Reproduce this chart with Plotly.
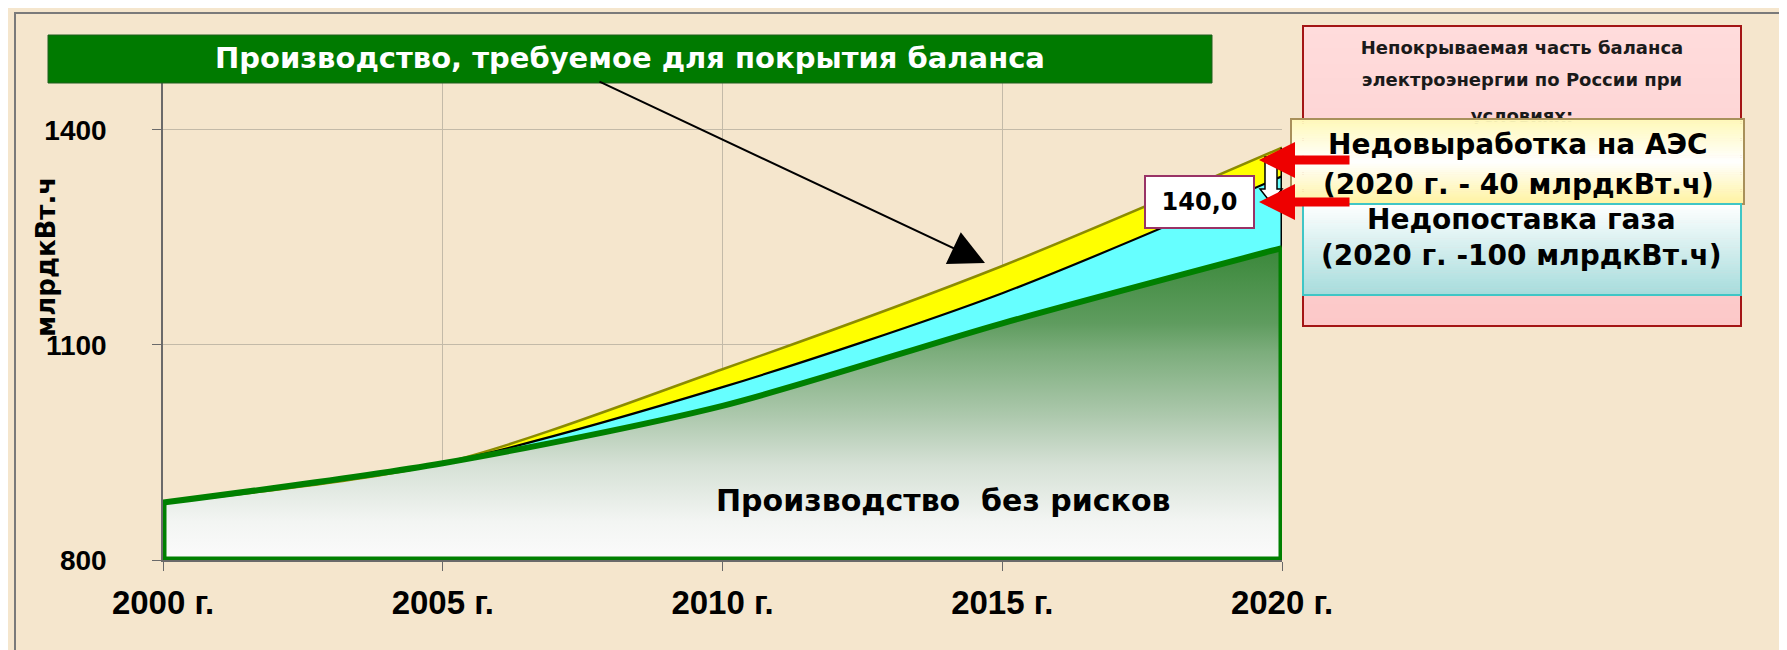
import plotly.graph_objects as go

# ---------------- data ----------------
years = [2000, 2005, 2010, 2015, 2020]
year_labels = ["2000 г.", "2005 г.", "2010 г.", "2015 г.", "2020 г."]
base_production = [880, 935, 1015, 1130, 1235]   # Производство без рисков
gas_shortfall = [0, 0, 26, 42, 100]              # Недопоставка газа
npp_shortfall = [0, 0, 25, 38, 40]               # Недовыработка на АЭС
y_tickvals = [800, 1100, 1400]
y_range = [800, 1500]
gap_label = "140,0"

gas_top = [b + g for b, g in zip(base_production, gas_shortfall)]
total_top = [c + n for c, n in zip(gas_top, npp_shortfall)]

# ---------------- geometry helpers (page pixels) ----------------
W, H = 1787, 650
OX, OY = -8, -7          # global placement offset
PL, PR, PT, PB = 163, 1282, 57, 559   # plot area in page px (before offset)


def fx(px):
    return (px + OX) / W


def fy(py):
    return 1 - (py + OY) / H


def hex2rgb(h):
    h = h.lstrip('#')
    return tuple(int(h[i:i + 2], 16) for i in (0, 2, 4))


def interp(stops, t):
    for i in range(len(stops) - 1):
        t0, c0 = stops[i]
        t1, c1 = stops[i + 1]
        if t0 <= t <= t1:
            a = 0 if t1 == t0 else (t - t0) / (t1 - t0)
            c0, c1 = hex2rgb(c0), hex2rgb(c1)
            return 'rgb(%d,%d,%d)' % tuple(round(c0[k] + (c1[k] - c0[k]) * a) for k in range(3))
    return stops[-1][1]


shapes = []


def gradient_rect(x0, y0, x1, y1, stops, border, bw=2, layer='above', n=40):
    h = (y1 - y0) / n
    for i in range(n):
        ya = y0 + i * h
        yb = min(y0 + (i + 1) * h + 0.6, y1)
        shapes.append(dict(type='rect', xref='paper', yref='paper',
                           x0=fx(x0), x1=fx(x1), y0=fy(ya), y1=fy(yb),
                           fillcolor=interp(stops, (i + 0.5) / n), line=dict(width=0), layer=layer))
    shapes.append(dict(type='rect', xref='paper', yref='paper', x0=fx(x0), x1=fx(x1),
                       y0=fy(y0), y1=fy(y1), line=dict(color=border, width=bw),
                       fillcolor='rgba(0,0,0,0)', layer=layer))


BOLD_SANS = "DejaVu Sans"

fig = go.Figure()

# ---------------- areas ----------------
spl = 0.8
fig.add_trace(go.Scatter(
    x=years, y=base_production, mode='lines', fill='tozeroy',
    fillgradient=dict(type='vertical', start=y_range[0], stop=max(base_production) + 5,
                      colorscale=[[0, '#fbfbfb'], [0.12, '#f3f5f3'], [0.3, '#d6e1d6'],
                                  [0.46, '#acc8ac'], [0.66, '#7cad7c'], [0.75, '#5f9c5f'],
                                  [1, '#388738']]),
    line=dict(width=0, shape='spline', smoothing=spl), hoverinfo='skip', showlegend=False))
fig.add_trace(go.Scatter(
    x=years, y=gas_top, mode='lines', fill='tonexty', fillcolor='#66ffff',
    line=dict(width=0, shape='spline', smoothing=spl), hoverinfo='skip', showlegend=False))
fig.add_trace(go.Scatter(
    x=years, y=total_top, mode='lines', fill='tonexty', fillcolor='#ffff00',
    line=dict(width=0, shape='spline', smoothing=spl), hoverinfo='skip', showlegend=False))

# top lines
fig.add_trace(go.Scatter(x=years, y=total_top, mode='lines',
                         line=dict(color='#8c8c00', width=2.5, shape='spline', smoothing=spl),
                         hoverinfo='skip', showlegend=False))
fig.add_trace(go.Scatter(x=years, y=gas_top, mode='lines',
                         line=dict(color='#000000', width=2.2, shape='spline', smoothing=spl),
                         hoverinfo='skip', showlegend=False))
# right edge of stacked risk areas
fig.add_trace(go.Scatter(x=[years[-1], years[-1]], y=[total_top[-1], base_production[-1]],
                         mode='lines', line=dict(color='#000000', width=3),
                         hoverinfo='skip', showlegend=False))
# green frame of base area
fig.add_trace(go.Scatter(x=[years[0], years[0], years[-1], years[-1]],
                         y=[base_production[0], y_range[0], y_range[0], base_production[-1]],
                         mode='lines', line=dict(color='#008000', width=7),
                         hoverinfo='skip', showlegend=False))
fig.add_trace(go.Scatter(x=years, y=base_production, mode='lines',
                         line=dict(color='#008000', width=6, shape='spline', smoothing=spl),
                         hoverinfo='skip', showlegend=False))

# small header text of the right panel, on a full-page overlay subplot (x2/y2 in page px)
panel_lines = ["Непокрываемая часть баланса", "электроэнергии по России при", "условиях:"]
panel_y = [48, 80, 116]
fig.add_trace(go.Scatter(x=[1522 + OX] * 3, y=[v + OY for v in panel_y], mode='text',
                         text=panel_lines, textposition='middle center', cliponaxis=False,
                         textfont=dict(family=BOLD_SANS, size=18, color='#1a1a1a', weight='bold'),
                         xaxis='x2', yaxis='y2', hoverinfo='skip', showlegend=False))

# ---------------- shapes ----------------
shapes.append(dict(type='rect', xref='paper', yref='paper', x0=7 / W, x1=1781 / W, y0=1 - 5 / H,
                   y1=1 - 645 / H, line=dict(color='#7a7a7a', width=2),
                   fillcolor='rgba(0,0,0,0)', layer='below'))
gradient_rect(1303, 25, 1741, 325, [(0, '#ffdcdc'), (1, '#fcc8c8')], '#a31515', layer='below')
gradient_rect(1291, 118, 1744, 203, [(0, '#fff9b8'), (0.5, '#ffffff'), (1, '#fff3a0')], '#a8905a')
gradient_rect(1303, 203, 1741, 294, [(0, '#ffffff'), (1, '#a6dcdc')], '#3fc6c6')
shapes.append(dict(type='rect', xref='paper', yref='paper', x0=fx(48), x1=fx(1212), y0=fy(34), y1=fy(82),
                   fillcolor='#007a00', line=dict(color='#1f5f1f', width=1), layer='above'))
ax0, ax1, hx0, hx1, yt, yh, ytip = 1265, 1277, 1260, 1282, 156, 188, 202
pts = [(ax0, yt), (ax1, yt), (ax1, yh), (hx1, yh), ((ax0 + ax1) / 2, ytip), (hx0, yh), (ax0, yh)]
path = 'M ' + ' L '.join('%.5f,%.5f' % (fx(a), fy(b)) for a, b in pts) + ' Z'
shapes.append(dict(type='path', xref='paper', yref='paper', path=path, fillcolor='#ffffff',
                   line=dict(color='#000000', width=1.5), layer='above'))

# ---------------- annotations ----------------
ann = []


def text(px, py, s, size, color='#000000', family=BOLD_SANS, **kw):
    ann.append(dict(x=fx(px), y=fy(py), xref='paper', yref='paper', text=s, showarrow=False,
                    font=dict(family=family, size=size, color=color, weight='bold'),
                    xanchor='center', yanchor='middle', **kw))


text(630, 57, "Производство, требуемое для покрытия баланса", 29, '#ffffff')
text(943, 499, "Производство\u00a0 без рисков", 30)
text(46, 256, "млрдкВт.ч", 26, textangle=-90)
text(1518, 143, "Недовыработка на АЭС", 28)
text(1518, 183, "(2020 г. - 40 млрдкВт.ч)", 28)
text(1521, 218, "Недопоставка газа", 28)
text(1521, 254, "(2020 г. -100 млрдкВт.ч)", 28)
ann.append(dict(x=fx(1199.5), y=fy(201), xref='paper', yref='paper', text=gap_label, showarrow=False,
                font=dict(family=BOLD_SANS, size=24, color='#000000', weight='bold'),
                bgcolor='#ffffff', bordercolor='#993366', borderwidth=2, width=105, height=48,
                xanchor='center', yanchor='middle', align='center'))

# black pointer arrow from the title bar
ann.append(dict(x=fx(985), y=fy(262), xref='paper', yref='paper', ax=598 - 985, ay=80 - 262,
                showarrow=True, arrowhead=2, arrowsize=3.5, arrowwidth=2, arrowcolor='#000000', text=''))
# red arrows
for tip_y in (159, 201):
    ann.append(dict(x=fx(1259), y=fy(tip_y), xref='paper', yref='paper', ax=92, ay=0,
                    showarrow=True, arrowhead=2, arrowsize=0.8, arrowwidth=9, arrowcolor='#ee0000',
                    text=''))

xtickfont = dict(family="Liberation Sans", size=33, color='#000000', weight='bold')
ytickfont = dict(family="Liberation Sans", size=28, color='#000000', weight='bold')

fig.update_layout(
    width=W, height=H,
    margin=dict(l=0, r=0, t=0, b=0, pad=0, autoexpand=False),
    paper_bgcolor='#f5e6cd', plot_bgcolor='rgba(0,0,0,0)',
    showlegend=False,
    shapes=shapes, annotations=ann,
    xaxis=dict(domain=[fx(PL), fx(PR)], range=[years[0], years[-1]], tickvals=years,
               ticktext=year_labels, anchor='y', automargin=False,
               showgrid=True, gridcolor='#c3baa8', gridwidth=1, zeroline=False,
               showline=True, linecolor='#6a6a6a', linewidth=1.5,
               ticks='outside', ticklen=9, tickcolor='#6a6a6a', tickfont=xtickfont,
               ticklabelstandoff=4, fixedrange=True),
    yaxis=dict(domain=[fy(PB), fy(PT)], range=y_range, tickvals=y_tickvals, anchor='x',
               automargin=False, showgrid=True, gridcolor='#c3baa8', gridwidth=1,
               zeroline=False, showline=True, linecolor='#6a6a6a', linewidth=1.5,
               ticks='outside', ticklen=9, tickcolor='#6a6a6a', tickfont=ytickfont,
               ticklabelstandoff=40, fixedrange=True),
    xaxis2=dict(domain=[0, 1], range=[0, W], anchor='y2', visible=False, automargin=False,
                fixedrange=True),
    yaxis2=dict(domain=[0, 1], range=[H, 0], anchor='x2', visible=False, automargin=False,
                fixedrange=True),
)

fig.write_html("out.html")
